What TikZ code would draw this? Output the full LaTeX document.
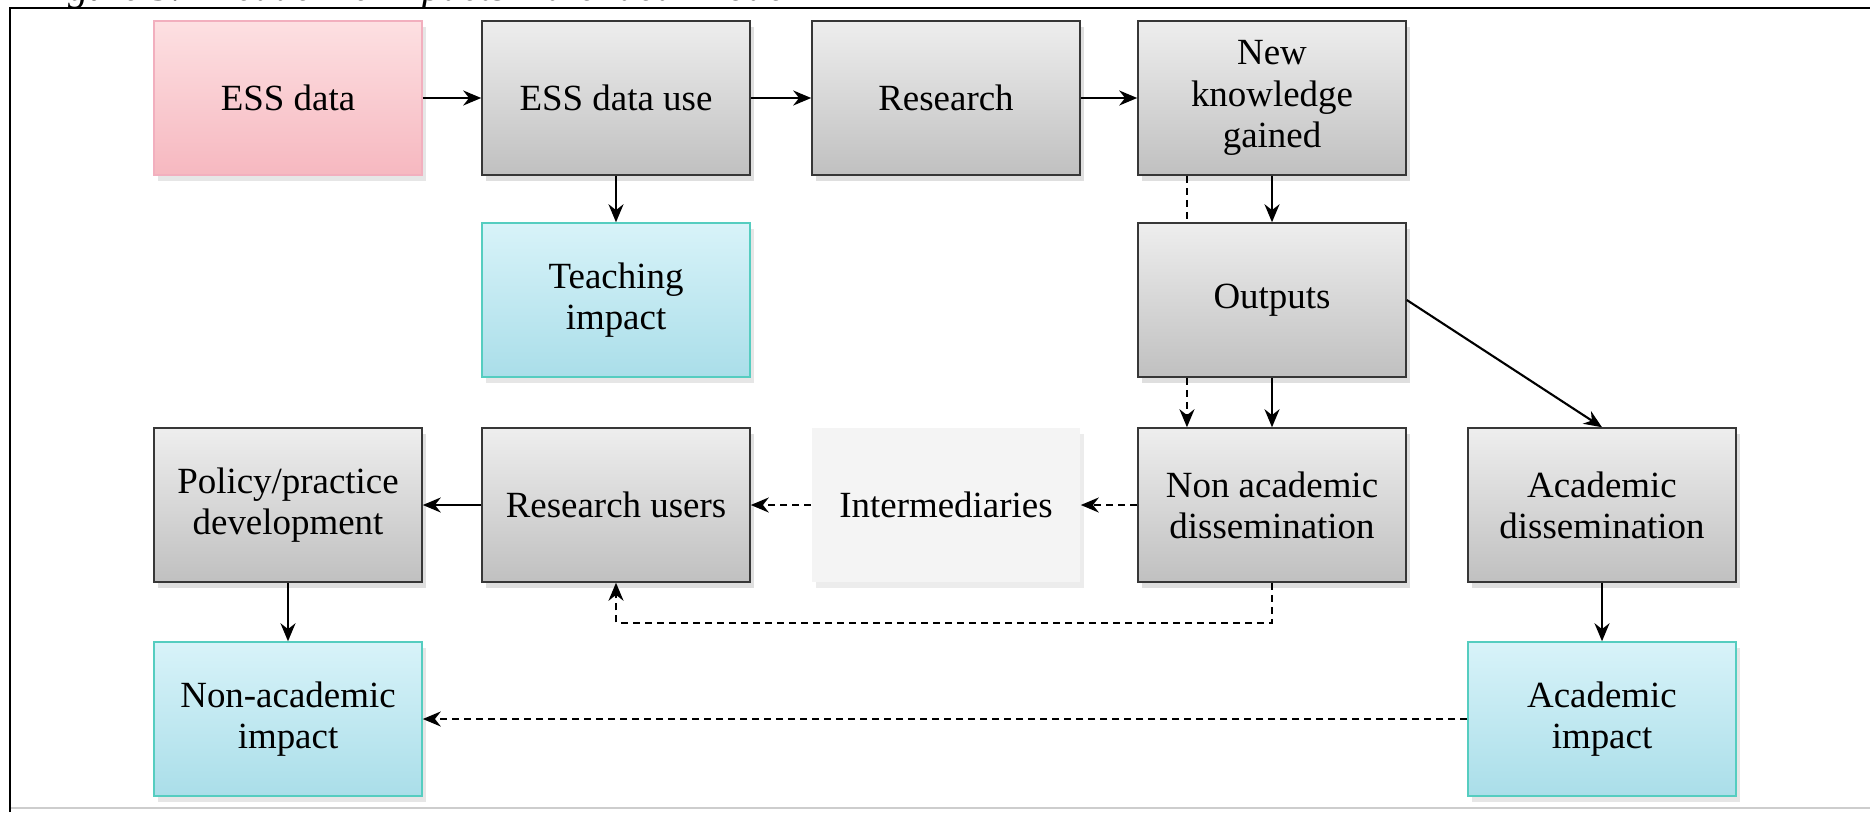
\documentclass[tikz,border=0pt]{standalone}
\usepackage{fontspec}
\setmainfont{Liberation Serif}
\usetikzlibrary{arrows.meta, positioning, shadows, calc}
\definecolor{boxgraytop}{RGB}{238,238,238}
\definecolor{boxgraybot}{RGB}{192,192,192}
\definecolor{boxedge}{RGB}{55,55,55}
\definecolor{pinktop}{RGB}{253,224,226}
\definecolor{pinkbot}{RGB}{246,184,192}
\definecolor{pinkedge}{RGB}{242,175,190}
\definecolor{cyantop}{RGB}{216,243,249}
\definecolor{cyanbot}{RGB}{170,222,233}
\definecolor{cyanedge}{RGB}{85,205,192}
\definecolor{lightbox}{RGB}{244,244,244}
\definecolor{framegray}{RGB}{205,205,205}

\begin{document}
\begin{tikzpicture}[
    x=0.01cm, y=-0.01cm,
    box/.style={rectangle, minimum width=2.68cm, minimum height=1.54cm, align=center, text centered, inner sep=2pt, font=\fontsize{10.5}{11.7}\selectfont},
    graybox/.style={box, draw=boxedge, top color=boxgraytop, bottom color=boxgraybot, drop shadow={opacity=0.25, shadow xshift=0.4mm, shadow yshift=-0.6mm}},
    databox/.style={box, draw=pinkedge, top color=pinktop, bottom color=pinkbot, drop shadow={opacity=0.2, shadow xshift=0.4mm, shadow yshift=-0.6mm}},
    impactbox/.style={box, draw=cyanedge, top color=cyantop, bottom color=cyanbot, drop shadow={opacity=0.2, shadow xshift=0.4mm, shadow yshift=-0.6mm}},
    softbox/.style={box, fill=lightbox, drop shadow={opacity=0.15, shadow xshift=0.4mm, shadow yshift=-0.6mm}},
    arrow/.style={semithick, -{Stealth[length=1.8mm, width=1.5mm]}, draw=black},
    dasharrow/.style={arrow, dash pattern=on 0.7mm off 0.5mm},
    dashline/.style={semithick, dash pattern=on 0.7mm off 0.5mm, draw=black}
]
\useasboundingbox (0,0) rectangle (1870,812);

% Caption (cut off at the top) and frame
\node (caption) [anchor=base west, font=\fontsize{11.5}{12}\selectfont\itshape, inner sep=0pt] at (32,1) {Figure 5.1 Academic impacts -- the ideal model};
\draw [framegray, line width=0.5pt] (10,808) -- (1870,808);
\draw [black, line width=0.7pt] (10,812) -- (10,8) -- (1870,8);

% Top row
\node (ess_data) [databox] at (288,98) {ESS data};
\node (ess_use) [graybox] at (616,98) {ESS data use};
\node (research) [graybox] at (946,98) {Research};
\node (new_knowledge) [graybox] at (1272,98) {New\\knowledge\\gained};

% Second row
\node (teaching) [impactbox] at (616,300) {Teaching\\impact};
\node (outputs) [graybox] at (1272,300) {Outputs};

% Dissemination row
\node (policy) [graybox] at (288,505) {Policy/practice\\development};
\node (users) [graybox] at (616,505) {Research users};
\node (intermediaries) [softbox] at (946,505) {Intermediaries};
\node (nonacad_diss) [graybox] at (1272,505) {Non academic\\dissemination};
\node (acad_diss) [graybox] at (1602,505) {Academic\\dissemination};

% Impacts
\node (nonacad_impact) [impactbox] at (288,719) {Non-academic\\impact};
\node (acad_impact) [impactbox] at (1602,719) {Academic\\impact};

% Arrows
\draw [arrow] (ess_data) -- (ess_use);
\draw [arrow] (ess_use) -- (research);
\draw [arrow] (research) -- (new_knowledge);
\draw [arrow] (ess_use) -- (teaching);
\draw [arrow] (new_knowledge) -- (outputs);
\draw [dashline] ([xshift=-0.85cm]new_knowledge.south) -- ([xshift=-0.85cm]outputs.north);
\draw [arrow] (outputs) -- (nonacad_diss);
\draw [dasharrow] ([xshift=-0.85cm]outputs.south) -- ([xshift=-0.85cm]nonacad_diss.north);
\draw [arrow] (outputs.east) -- (acad_diss.north);

\draw [dasharrow] (nonacad_diss) -- (intermediaries);
\draw [dasharrow] (intermediaries) -- (users);
\draw [arrow] (users) -- (policy);
\draw [dasharrow] (nonacad_diss.south) -- ++(0,40) -| (users.south);

\draw [arrow] (policy) -- (nonacad_impact);
\draw [arrow] (acad_diss) -- (acad_impact);
\draw [dasharrow] (acad_impact) -- (nonacad_impact);

\end{tikzpicture}
\end{document}
